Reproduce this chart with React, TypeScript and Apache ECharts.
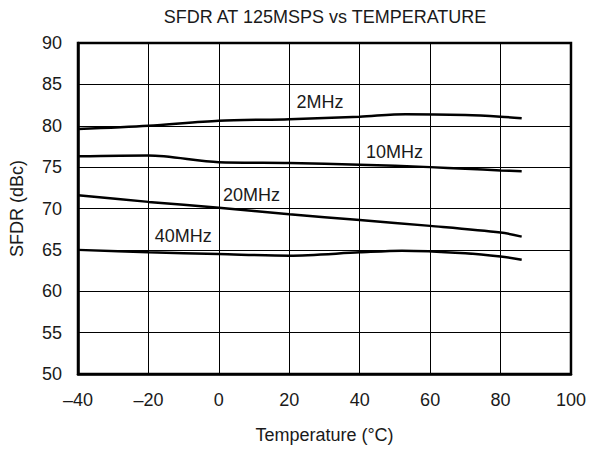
import React, { useEffect, useRef } from "react";
import * as echarts from "echarts";

const title = "SFDR AT 125MSPS vs TEMPERATURE";
const xName = "Temperature (°C)";
const yName = "SFDR (dBc)";

const s2MHz: [number, number][] = [[-40, 79.6], [-20, 80.0], [0, 80.6], [20, 80.8], [40, 81.1], [53, 81.4], [70, 81.3], [80, 81.1], [86, 80.9]];
const s10MHz: [number, number][] = [[-40, 76.3], [-20, 76.4], [0, 75.6], [20, 75.5], [40, 75.3], [60, 75.0], [70, 74.8], [80, 74.6], [86, 74.5]];
const s20MHz: [number, number][] = [[-40, 71.6], [-20, 70.8], [0, 70.1], [20, 69.3], [40, 68.6], [60, 67.9], [80, 67.1], [86, 66.6]];
const s40MHz: [number, number][] = [[-40, 65.0], [-20, 64.7], [0, 64.5], [20, 64.3], [40, 64.7], [52, 64.9], [70, 64.6], [80, 64.2], [86, 63.8]];

const seriesNames = ["2MHz", "10MHz", "20MHz", "40MHz"];
const seriesData = [s2MHz, s10MHz, s20MHz, s40MHz];
const labelCoords: [number, number][] = [[28.7, 82.9], [49.9, 76.8], [9.3, 71.6], [-10.1, 66.7]];

const FONT = "'Liberation Sans', Arial, sans-serif";
const TXT = "#1a1a1a";
const FS = 18;

export default function App() {
  const ref = useRef<HTMLDivElement>(null);
  useEffect(() => {
    document.body.style.margin = "0";
    const chart = echarts.init(ref.current!, null, { renderer: "svg" });
    chart.setOption({
      animation: false,
      backgroundColor: "#ffffff",
      textStyle: { fontFamily: FONT, color: TXT },
      title: {
        text: title,
        left: 320,
        top: 3,
        textAlign: "center",
        textStyle: { fontFamily: FONT, fontSize: FS, fontWeight: "normal", color: TXT },
      },
      grid: {
        left: 76,
        right: 16,
        top: 43,
        bottom: 73,
        show: true,
        borderColor: "#000",
        borderWidth: 2.5,
      },
      xAxis: {
        type: "value",
        min: -40,
        max: 100,
        interval: 20,
        name: xName,
        nameLocation: "middle",
        nameGap: 52,
        nameTextStyle: { fontFamily: FONT, fontSize: FS, color: TXT },
        axisLine: { show: true, onZero: false, lineStyle: { color: "#000", width: 2.5 } },
        axisTick: { show: false },
        axisLabel: {
          fontFamily: FONT,
          fontSize: FS,
          color: TXT,
          margin: 17,
          formatter: (v: number) => (v < 0 ? "\u2013" + Math.abs(v) : String(v)),
        },
        splitLine: { show: true, lineStyle: { color: "#000", width: 1 } },
      },
      yAxis: {
        type: "value",
        min: 50,
        max: 90,
        interval: 5,
        name: yName,
        nameLocation: "middle",
        nameGap: 52,
        nameTextStyle: { fontFamily: FONT, fontSize: FS, color: TXT },
        axisLine: { show: true, onZero: false, lineStyle: { color: "#000", width: 2.5 } },
        axisTick: { show: false },
        axisLabel: { fontFamily: FONT, fontSize: FS, color: TXT, margin: 16 },
        splitLine: { show: true, lineStyle: { color: "#000", width: 1 } },
      },
      series: seriesNames.map((name, i) => ({
        name,
        type: "line",
        data: seriesData[i],
        smooth: 0.3,
        showSymbol: false,
        symbol: "none",
        lineStyle: { color: "#000", width: 2.5 },
        markPoint: {
          symbol: "circle",
          symbolSize: 0,
          data: [
            {
              coord: labelCoords[i],
              label: {
                show: true,
                position: "inside",
                formatter: name,
                fontFamily: FONT,
                fontSize: FS,
                color: TXT,
              },
            },
          ],
        },
      })),
    });
    return () => chart.dispose();
  }, []);
  return <div ref={ref} style={{ width: 589, height: 449 }} />;
}
